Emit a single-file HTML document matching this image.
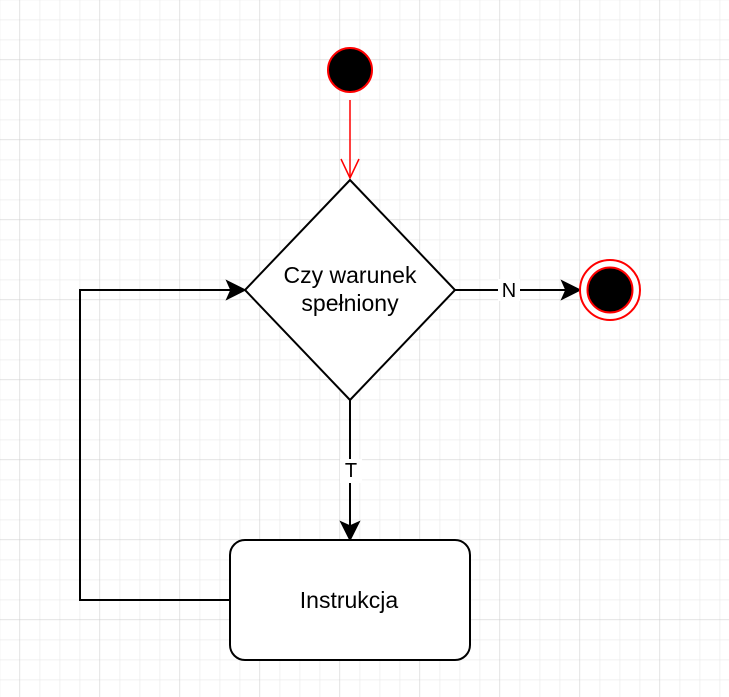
<!DOCTYPE html>
<html><head><style>
html,body{margin:0;padding:0;width:729px;height:697px;overflow:hidden;background:#fff}
</style></head><body>
<svg width="729" height="697" xmlns="http://www.w3.org/2000/svg" font-family="Liberation Sans, sans-serif">
<defs>
<pattern id="minor" x="19.5" y="19.5" width="20" height="20" patternUnits="userSpaceOnUse">
<path d="M0 0H20M0 0V20" stroke="#ececec" stroke-width="1.5" fill="none"/>
</pattern>
<pattern id="major" x="19.5" y="59.5" width="80" height="80" patternUnits="userSpaceOnUse">
<path d="M0 0H80M0 0V80" stroke="#d0d0d0" stroke-width="1" fill="none"/>
</pattern>
</defs>
<rect width="729" height="697" fill="url(#minor)"/>
<rect width="729" height="697" fill="url(#major)"/>

<circle cx="350" cy="70" r="22" fill="#000" stroke="#ff0000" stroke-width="2"/>
<line x1="350" y1="100" x2="350" y2="178" stroke="#ff0000" stroke-width="1.5"/>
<path d="M341 159 L350 178 L359 159" fill="none" stroke="#ff0000" stroke-width="1.5"/>

<polygon points="350,180 455,290 350,400 245,290" fill="#fff" stroke="#000" stroke-width="2"/>
<text x="350" y="283" font-size="23" text-anchor="middle">Czy warunek</text>
<text x="350" y="311" font-size="23" text-anchor="middle">spełniony</text>

<line x1="455" y1="290" x2="570" y2="290" stroke="#000" stroke-width="2"/>
<rect x="498" y="279" width="22" height="22" fill="#fff"/>
<text x="509" y="297" font-size="20" text-anchor="middle">N</text>
<path d="M562 281 L580 290 L562 299 L566 290 Z" fill="#000" stroke="#000" stroke-width="1.5"/>

<circle cx="610" cy="290" r="30" fill="#fff" stroke="#ff0000" stroke-width="2"/>
<circle cx="610" cy="290" r="22.5" fill="#000" stroke="#ff0000" stroke-width="2"/>

<line x1="350" y1="400" x2="350" y2="530" stroke="#000" stroke-width="2"/>
<rect x="340" y="459" width="22" height="24" fill="#fff"/>
<text x="351" y="477" font-size="20" text-anchor="middle">T</text>
<path d="M341 522 L350 540 L359 522 L350 526 Z" fill="#000" stroke="#000" stroke-width="1.5"/>

<rect x="230" y="540" width="240" height="120" rx="15" ry="15" fill="#fff" stroke="#000" stroke-width="2"/>
<text x="349" y="608" font-size="23" text-anchor="middle">Instrukcja</text>

<path d="M230 600 H80 V290 H236" fill="none" stroke="#000" stroke-width="2"/>
<path d="M227 281 L245 290 L227 299 L231 290 Z" fill="#000" stroke="#000" stroke-width="1.5"/>
</svg>
</body></html>
